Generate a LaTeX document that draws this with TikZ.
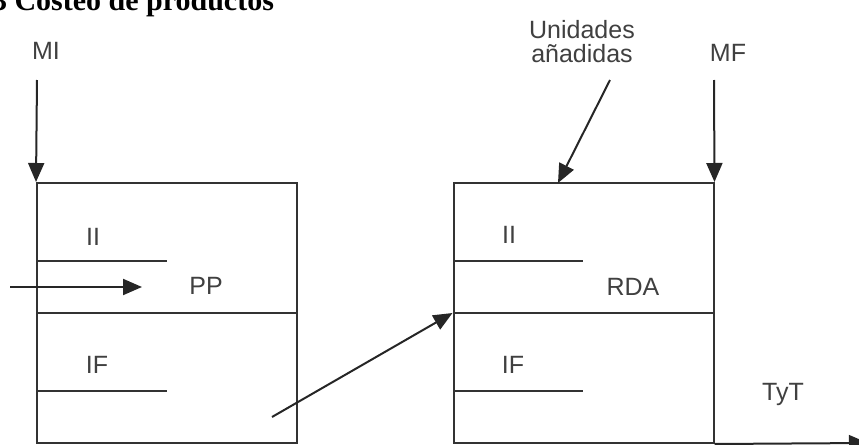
\documentclass[tikz,border=0pt]{standalone}
\usepackage{fontspec}
\setmainfont{Liberation Sans}
\newfontfamily\titlefont{Liberation Serif}
\usetikzlibrary{arrows.meta}

\begin{document}
\begin{tikzpicture}[x=0.5pt,y=-0.5pt,line width=1pt,
      lbl/.style={text=black!75,inner sep=0pt,font=\fontsize{12.5}{14}\selectfont},
      box/.style={draw=black!80,minimum width=130pt,minimum height=130pt,inner sep=0pt},
      arr/.style={draw=black!85,-{Triangle[length=9.5pt,width=8pt]}}]
      \useasboundingbox (0,0) rectangle (859,445) ;
      \clip (0,0) rectangle (859,445) ;
      % title, cut at the top
      \node[anchor=base west,inner sep=0pt,font=\titlefont\bfseries\fontsize{15}{17}\selectfont] %
      (title) at (-9,10) {3 Costeo de productos} ;
      % the two boxes
      \node[box] (pp) at (167,313) {} ;
      \node[box] (rda) at (583.5,313) {} ;
      \draw[black!80] (pp.west) -- (pp.east) ;
      \draw[black!80] (rda.west) -- (rda.east) ;
      \draw[black!80] (37,261) -- (167,261) (37,391) -- (167,391) ;
      \draw[black!80] (453,261) -- (583,261) (453,391) -- (583,391) ;
      % texts
      \node[lbl] (ii1) at (93,237) {II} ;
      \node[lbl] (pplbl) at (206,286) {PP} ;
      \node[lbl] (if1) at (97,365) {IF} ;
      \node[lbl] (ii2) at (509,235) {II} ;
      \node[lbl] (rdalbl) at (633,287) {RDA} ;
      \node[lbl] (if2) at (513,365) {IF} ;
      \node[lbl] (tyt) at (783,394) {TyT} ;
      \node[lbl] (mi) at (46,51) {MI} ;
      \node[lbl] (mf) at (728,53) {MF} ;
      \node[lbl,align=center] (ua) at (582,42) {Unidades\\[-2pt]añadidas} ;
      % arrows
      \coordinate (miS) at (37,80) ;
      \coordinate (mfS) at (714,80) ;
      \coordinate (uaS) at (610,80) ;
      \coordinate (uaE) at (558,183) ;
      \coordinate (inS) at (10,287) ;
      \coordinate (inE) at (142,287) ;
      \coordinate (trS) at (272,417) ;
      \coordinate (outE) at (868,443) ;
      \draw[arr] (miS) -- (pp.north west) ;
      \draw[arr] (mfS) -- (rda.north east) ;
      \draw[arr] (uaS) -- (uaE) ;
      \draw[arr] (inS) -- (inE) ;
      \draw[arr] (trS) -- (rda.west) ;
      \draw[arr] (rda.south east) -- (outE) ;
    \end{tikzpicture}
\end{document}
